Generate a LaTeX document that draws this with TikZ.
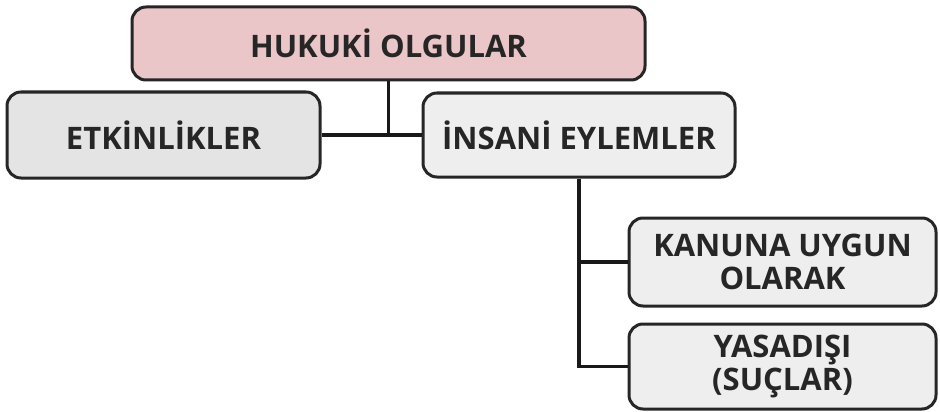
\documentclass[tikz,border=0pt]{standalone}
\usepackage{fontspec}
\setmainfont{Open Sans}
\usetikzlibrary{positioning}
\definecolor{olgupink}{HTML}{EBC6C9}
\definecolor{marble}{HTML}{E4E4E4}
\definecolor{marblelt}{HTML}{EEEEEE}
\tikzset{
  kutu/.style={draw=black!85, line width=3pt, rounded corners=14pt, inner sep=0pt,
    align=center, font=\fontsize{31}{33}\selectfont\bfseries, text=black!85},
  bag/.style={draw=black!90, line width=3.2pt}
}
\begin{document}
\begin{tikzpicture}[x=1pt,y=-1pt]
    \useasboundingbox (0,0) rectangle (940,412);
    % top level
    \node[kutu, fill=olgupink, minimum width=513pt, minimum height=73pt] (olgu) at (388.5,43.5) {HUKUKİ OLGULAR};
    % second level
    \node[kutu, fill=marble, minimum width=313pt, minimum height=86pt] (etkin) at (163.5,135) {ETKİNLİKLER};
    \node[kutu, fill=marblelt, minimum width=312pt, minimum height=84pt] (insani) at (579,135) {İNSANİ EYLEMLER};
    % third level
    \node[kutu, fill=marblelt, minimum width=307pt, minimum height=88pt] (kanuna) at (782.5,262) {KANUNA UYGUN\\OLARAK};
    \node[kutu, fill=marblelt, minimum width=307pt, minimum height=85pt] (yasa) at (782.5,366.5) {YASADIŞI\\(SUÇLAR)};

    % connectors
    \draw[bag] (etkin.east) -- (insani.west);
    \draw[bag] (olgu.south) -- (olgu.south |- etkin.east);
    \draw[bag] (insani.south) |- (yasa.west);
    \draw[bag] (insani.south |- kanuna.west) -- (kanuna.west);
\end{tikzpicture}
\end{document}
